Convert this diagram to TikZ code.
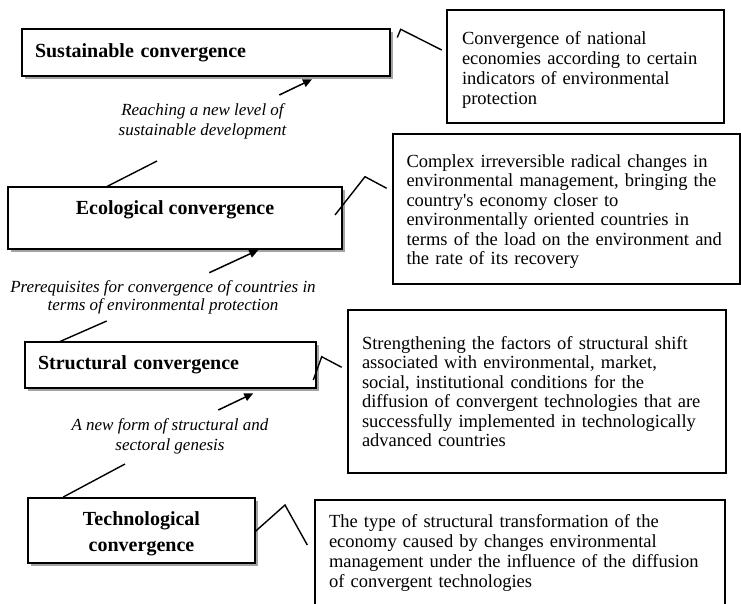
\documentclass[tikz,border=0pt]{standalone}
\usepackage{fontspec}
\setmainfont{Liberation Serif}[Ligatures=TeXOff]
\usetikzlibrary{arrows.meta,shadows}
\tikzset{
  leftbox/.style={draw=black, line width=1.6pt, fill=white, inner xsep=13pt, inner ysep=0pt,
    drop shadow={shadow xshift=3pt, shadow yshift=-3pt, fill=black!45, opacity=0.8},
    font=\fontsize{20}{26}\selectfont\bfseries},
  rightbox/.style={draw=black, line width=1.5pt, fill=white, inner ysep=0pt, align=left,
    font=\fontsize{18.5}{19.7}\selectfont},
  lab/.style={align=center, inner sep=0pt, font=\fontsize{17}{20}\selectfont\itshape},
  conn/.style={draw=black, line width=1.4pt},
  arr/.style={draw=black, line width=1.5pt, -{Triangle[length=9pt,width=8pt]}},
}
\begin{document}
\begin{tikzpicture}[x=1pt,y=-1pt]
\useasboundingbox (0,0) rectangle (741,603);
\fill[white] (0,0) rectangle (741,603);

% left boxes
\node[leftbox, minimum width=368pt, minimum height=47pt, text width=342pt, align=left] (sus) at (206,52.5) {Sustainable convergence};
\node[leftbox, minimum width=334pt, minimum height=62pt, align=center, font=\fontsize{20}{20}\selectfont\bfseries] (eco) at (175,218) {Ecological convergence\\\mbox{}};
\node[leftbox, minimum width=291pt, minimum height=46pt, text width=265pt, align=left] (str) at (170.5,365) {Structural convergence};
\node[leftbox, minimum width=227pt, minimum height=65pt, align=center] (tech) at (141.5,530.5) {\rule{0pt}{20pt}Technological\\convergence};

% right boxes
\node[rightbox, inner xsep=15pt, minimum width=277pt, minimum height=113pt, text width=247pt, font=\fontsize{18.5}{20}\selectfont] (dA) at (585.5,66.5)
  {\rule{0pt}{20pt}Convergence of national\\economies according to certain\\indicators of environmental\\protection};
\node[rightbox, inner xsep=13.5pt, minimum width=347pt, minimum height=150pt, text width=320pt, font=\fontsize{18.5}{19.5}\selectfont] (dB) at (566.5,209)
  {\rule{0pt}{18pt}Complex irreversible radical changes in\\environmental management, bringing the\\country's economy closer to\\environmentally oriented countries in\\terms of the load on the environment and\\the rate of its recovery};
\node[rightbox, inner xsep=14pt, minimum width=378pt, minimum height=163pt, text width=350pt, font=\fontsize{18.5}{19.5}\selectfont] (dC) at (537,391.5)
  {Strengthening the factors of structural shift\\associated with environmental, market,\\social, institutional conditions for the\\diffusion of convergent technologies that are\\successfully implemented in technologically\\advanced countries};
\node[rightbox, inner xsep=14pt, minimum width=410pt, minimum height=106pt, text width=382pt] (dD) at (520,553)
  {The type of structural transformation of the\\economy caused by changes environmental\\management under the influence of the diffusion\\of convergent technologies};

% labels
\node[lab] (l1) at (202.5,121) {Reaching a new level of\\sustainable development};
\node[lab, font=\fontsize{17}{17.5}\selectfont\itshape] (l2) at (163,297.5) {Prerequisites for convergence of countries in\\terms of environmental protection};
\node[lab] (l3) at (170,436.7) {A new form of structural and\\sectoral genesis};

% coordinates for free ends
\coordinate (a1s) at (279.3,95);   \coordinate (a1e) at (312,79.3);
\coordinate (a2s) at (209.3,272.7); \coordinate (a2e) at (258.3,250);
\coordinate (a3s) at (218.3,410);  \coordinate (a3e) at (253.3,393.3);

\coordinate (t1s) at (107,186.5);  \coordinate (t1e) at (157,161);
\coordinate (t2s) at (60,341.5);   \coordinate (t2e) at (106.7,321);
\coordinate (t3s) at (63.3,497);   \coordinate (t3e) at (125,464);

\coordinate (c1a) at (397.3,37.5); \coordinate (c1b) at (400.7,29.3); \coordinate (c1c) at (441.7,50);
\coordinate (c2a) at (335,215);    \coordinate (c2b) at (365,176.7);  \coordinate (c2c) at (386.7,188.3);
\coordinate (c3a) at (313.3,380);  \coordinate (c3b) at (321.7,356.7); \coordinate (c3c) at (341.7,367.3);
\coordinate (c4a) at (255,531.7);  \coordinate (c4b) at (285,505);    \coordinate (c4c) at (307.3,545);

% arrows
\draw[arr] (a1s) -- (a1e);
\draw[arr] (a2s) -- (a2e);
\draw[arr] (a3s) -- (a3e);

% plain lines
\draw[conn] (t1s) -- (t1e);
\draw[conn] (t2s) -- (t2e);
\draw[conn] (t3s) -- (t3e);

% callouts
\draw[conn, line join=miter] (c1a) -- (c1b) -- (c1c);
\draw[conn, line join=miter] (c2a) -- (c2b) -- (c2c);
\draw[conn, line join=miter] (c3a) -- (c3b) -- (c3c);
\draw[conn, line join=miter] (c4a) -- (c4b) -- (c4c);
\end{tikzpicture}
\end{document}
